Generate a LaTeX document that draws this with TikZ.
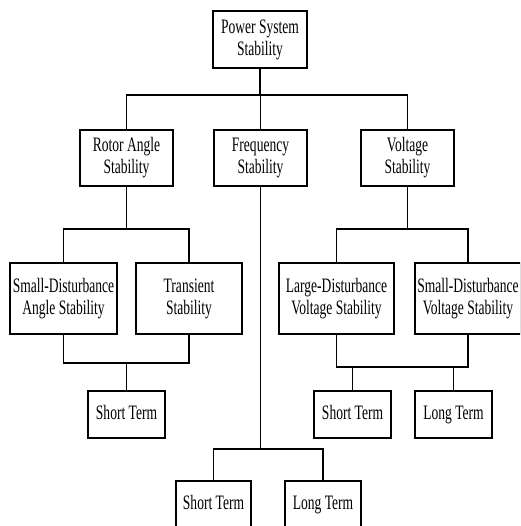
\documentclass[tikz,border=0pt]{standalone}
\usepackage{fontspec}
\setmainfont{Liberation Serif}[FakeStretch=0.66]
\begin{document}
\begin{tikzpicture}[x=1pt,y=-1pt,
  box/.style={draw, line width=2.3pt, align=center, inner sep=0pt,
    font=\fontsize{20.5}{22}\selectfont},
  one/.style={text height=14pt, text depth=4pt},
  conn/.style={line width=1.8pt}]
\useasboundingbox (0,0) rectangle (520,526);
\clip (0,0) rectangle (520,526);
% nodes
\node[box, minimum width=94pt, minimum height=57pt] (pss) at (260,39.5) {Power System\\Stability};
\node[box, minimum width=93pt, minimum height=56pt] (rot) at (126.5,158) {Rotor Angle\\Stability};
\node[box, minimum width=93pt, minimum height=56pt] (freq) at (260.5,158) {Frequency\\Stability};
\node[box, minimum width=93pt, minimum height=56pt] (volt) at (407.5,158) {Voltage\\Stability};
\node[box, minimum width=107pt, minimum height=71pt] (sda) at (63.5,298.5) {Small-Disturbance\\Angle Stability};
\node[box, minimum width=106pt, minimum height=71pt] (trans) at (189,298.5) {Transient\\Stability};
\node[box, minimum width=115pt, minimum height=71pt] (lds) at (336.5,298.5) {Large-Disturbance\\Voltage Stability};
\node[box, minimum width=106pt, minimum height=71pt] (sdv) at (468,298.5) {Small-Disturbance\\Voltage Stability};
\node[box, one, minimum width=77pt, minimum height=47pt] (st1) at (126.5,414.5) {Short Term};
\node[box, one, minimum width=77pt, minimum height=47pt] (st2) at (352.5,414.5) {Short Term};
\node[box, one, minimum width=77pt, minimum height=47pt] (lt2) at (453.5,414.5) {Long Term};
\node[box, one, minimum width=75pt, minimum height=47pt] (st3) at (213.5,504.5) {Short Term};
\node[box, one, minimum width=76pt, minimum height=47pt] (lt3) at (323,504.5) {Long Term};
% bar coordinates
\coordinate (b1) at (260,95);
\coordinate (b2) at (127,229);
\coordinate (b3) at (127,363);
\coordinate (b4) at (407,229);
\coordinate (b5) at (407,367);
\coordinate (b6) at (260,449);
% connectors
\draw[conn] (pss.south) -- (b1);
\draw[conn] (rot.north) -- (rot.north |- b1) -- (volt.north |- b1) -- (volt.north);
\draw[conn] (freq.north) -- (freq.north |- b1);
\draw[conn] (rot.south) -- (rot.south |- b2);
\draw[conn] (sda.north) -- (sda.north |- b2) -- (trans.north |- b2) -- (trans.north);
\draw[conn] (sda.south) -- (sda.south |- b3) -- (trans.south |- b3) -- (trans.south);
\draw[conn] (st1.north) -- (st1.north |- b3);
\draw[conn] (volt.south) -- (volt.south |- b4);
\draw[conn] (lds.north) -- (lds.north |- b4) -- (sdv.north |- b4) -- (sdv.north);
\draw[conn] (lds.south) -- (lds.south |- b5) -- (sdv.south |- b5) -- (sdv.south);
\draw[conn] (st2.north) -- (st2.north |- b5);
\draw[conn] (lt2.north) -- (lt2.north |- b5);
\draw[conn] (freq.south) -- (freq.south |- b6);
\draw[conn] (st3.north) -- (st3.north |- b6) -- (lt3.north |- b6) -- (lt3.north);
\end{tikzpicture}
\end{document}
